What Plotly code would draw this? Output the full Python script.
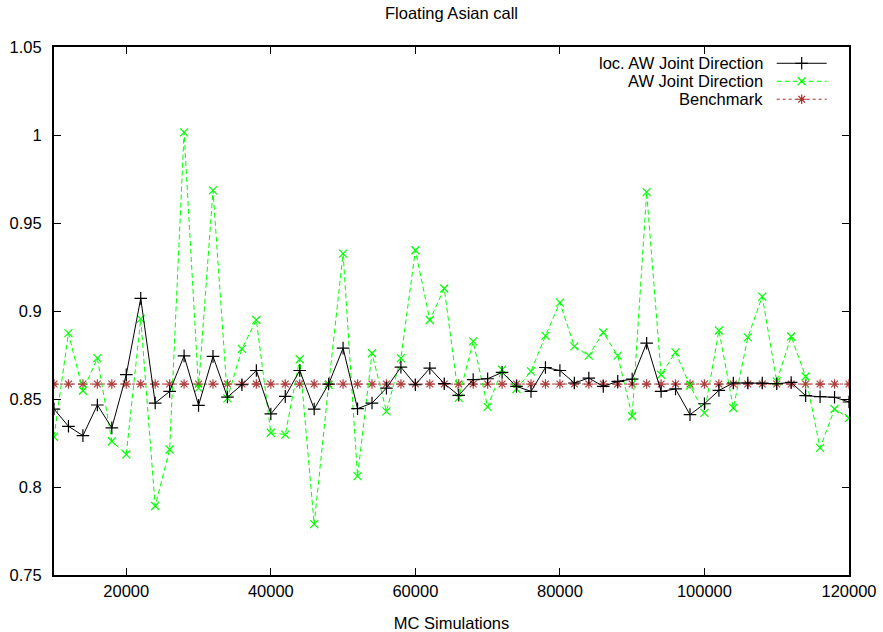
import plotly.graph_objects as go

# ---- data ----
mc_sims = list(range(10000, 120001, 2000))

loc_aw = [0.8443, 0.8345, 0.8292, 0.8466, 0.8336, 0.8638, 0.9072, 0.8477, 0.8543, 0.8745,
          0.8464, 0.8742, 0.8511, 0.8581, 0.8662, 0.8415, 0.8515, 0.8662, 0.8443, 0.8585,
          0.8789, 0.8445, 0.8477, 0.8562, 0.8681, 0.8581, 0.8675, 0.8587, 0.8521, 0.8610,
          0.8615, 0.8651, 0.8572, 0.8543, 0.8679, 0.8662, 0.8591, 0.8619, 0.8572, 0.8600,
          0.8613, 0.8817, 0.8543, 0.8557, 0.8411, 0.8473, 0.8549, 0.8591, 0.8591, 0.8591,
          0.8587, 0.8594, 0.8519, 0.8513, 0.8510, 0.8483]

aw = [0.8285, 0.8874, 0.8547, 0.8732, 0.8260, 0.8185, 0.8955, 0.7892, 0.8213, 1.0015,
      0.8562, 0.9685, 0.8504, 0.8785, 0.8949, 0.8308, 0.8298, 0.8726, 0.7789, 0.8580,
      0.9326, 0.8062, 0.8760, 0.8430, 0.8732, 0.9345, 0.8949, 0.9128, 0.8506, 0.8827,
      0.8455, 0.8666, 0.8557, 0.8657, 0.8859, 0.9048, 0.8799, 0.8746, 0.8878, 0.8746,
      0.8402, 0.9675, 0.8638, 0.8765, 0.8576, 0.8421, 0.8889, 0.8449, 0.8850, 0.9082,
      0.8600, 0.8855, 0.8628, 0.8222, 0.8443, 0.8392]

benchmark_value = 0.8585
benchmark = [benchmark_value] * len(mc_sims)

series_names = ["loc. AW Joint Direction", "AW Joint Direction", "Benchmark"]

y_tickvals = [0.75, 0.8, 0.85, 0.9, 0.95, 1.0, 1.05]
y_ticktext = ["0.75", "0.8", "0.85", "0.9", "0.95", "1", "1.05"]
x_tickvals = [20000, 40000, 60000, 80000, 100000, 120000]
x_ticktext = ["20000", "40000", "60000", "80000", "100000", "120000"]

# ---- styles ----
FONT = "Liberation Sans, Arial, sans-serif"
FS = 16.5
BLACK = "#000000"
GREEN = "#00ff00"
RED = "#a52a2a"

styles = [
    dict(color=BLACK, dash="solid", symbol="cross-thin-open", size=9),
    dict(color=GREEN, dash="5px,3px", symbol="x-thin-open", size=8),
    dict(color=RED, dash="3px,3px", symbol="asterisk-open", size=8),
]

fig = go.Figure()

order = [2, 1, 0]
values = [loc_aw, aw, benchmark]
for k in order:
    st = styles[k]
    fig.add_trace(go.Scatter(
        x=mc_sims, y=values[k], mode="lines+markers", name=series_names[k],
        line=dict(color=st["color"], width=1, dash=st["dash"]),
        marker=dict(symbol=st["symbol"], size=st["size"], color=st["color"],
                    line=dict(color=st["color"], width=1.2)),
        showlegend=False, opacity=0.9 if k == 2 else 1,
    ))

# ---- manual legend (text on the left, sample on the right, like gnuplot) ----
leg_rows = [512.3, 494.3, 476.3]
for k in range(3):
    st = styles[k]
    yk = leg_rows[k]
    fig.add_trace(go.Scatter(
        x=[722.7, 772.7], y=[yk, yk], mode="lines",
        line=dict(color=st["color"], width=1, dash=st["dash"]),
        xaxis="x2", yaxis="y2", showlegend=False, hoverinfo="skip",
    ))
    fig.add_trace(go.Scatter(
        x=[747.7], y=[yk], mode="markers",
        marker=dict(symbol=st["symbol"], size=st["size"], color=st["color"],
                    line=dict(color=st["color"], width=1.2)),
        xaxis="x2", yaxis="y2", showlegend=False, hoverinfo="skip",
    ))
    fig.add_annotation(
        x=710.7, y=yk, xref="x2", yref="y2", text=series_names[k],
        showarrow=False, xanchor="right", yanchor="middle",
        font=dict(family=FONT, size=FS, color="#000000"),
    )

fig.update_layout(
    width=883, height=632,
    margin=dict(l=54, r=34, t=47, b=57),
    paper_bgcolor="white", plot_bgcolor="white",
    font=dict(family=FONT, size=FS, color="#000000"),
    title=dict(text="Floating Asian call", x=0.5, xanchor="center",
               xref="paper", y=1 - 13 / 632, yanchor="middle",
               font=dict(family=FONT, size=FS, color="#000000")),
    showlegend=False,
    xaxis=dict(
        range=[10000, 120000], tickvals=x_tickvals, ticktext=x_ticktext,
        ticks="inside", ticklen=7, tickwidth=1, tickcolor="#000000",
        showline=True, linecolor="#000000", linewidth=2, mirror="ticks",
        showgrid=False, zeroline=False, automargin=False,
        title=dict(text="MC Simulations", standoff=28,
                   font=dict(family=FONT, size=FS)),
        tickfont=dict(family=FONT, size=FS), ticklabelstandoff=0,
    ),
    yaxis=dict(
        range=[0.75, 1.05], tickvals=y_tickvals, ticktext=y_ticktext,
        ticks="inside", ticklen=7, tickwidth=1, tickcolor="#000000",
        showline=True, linecolor="#000000", linewidth=2, mirror="ticks",
        showgrid=False, zeroline=False, automargin=False,
        tickfont=dict(family=FONT, size=FS), ticklabelstandoff=7,
    ),
    xaxis2=dict(range=[0, 795], overlaying="x", visible=False, fixedrange=True),
    yaxis2=dict(range=[0, 528.6], overlaying="y", visible=False, fixedrange=True),
)

fig.write_html("out.html")
